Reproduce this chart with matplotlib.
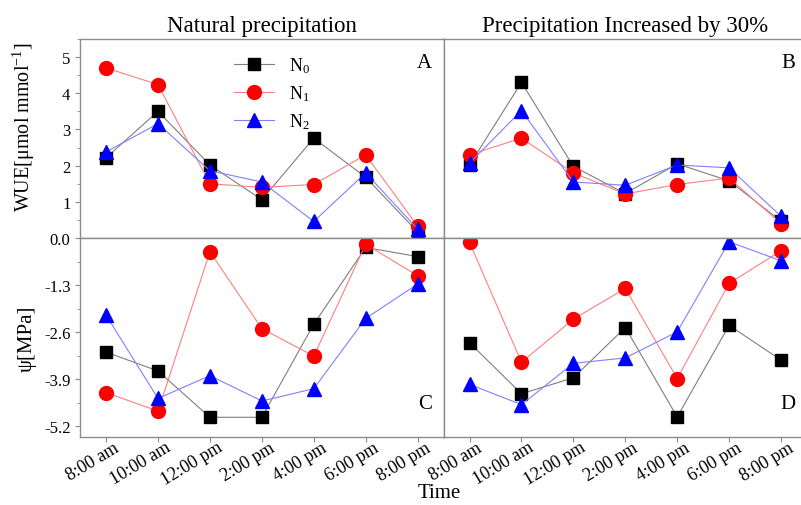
import matplotlib
matplotlib.use("Agg")
import matplotlib.pyplot as plt
from matplotlib.ticker import MultipleLocator, FixedLocator
from matplotlib.transforms import ScaledTranslation
import numpy as np

plt.rcParams["font.family"] = ["Liberation Serif", "DejaVu Serif"]
plt.rcParams["mathtext.fontset"] = "custom"
plt.rcParams["mathtext.rm"] = "Liberation Serif"
plt.rcParams["mathtext.it"] = "Liberation Serif:italic"

times = ["8:00 am", "10:00 am", "12:00 pm", "2:00 pm", "4:00 pm", "6:00 pm", "8:00 pm"]
series = ["N$_0$", "N$_1$", "N$_2$"]

# WUE, natural precipitation
wue_nat_n0 = [2.22, 3.50, 2.02, 1.06, 2.76, 1.68, 0.17]
wue_nat_n1 = [4.70, 4.24, 1.50, 1.40, 1.48, 2.30, 0.33]
wue_nat_n2 = [2.38, 3.16, 1.86, 1.55, 0.46, 1.80, 0.25]
# WUE, precipitation +30%
wue_inc_n0 = [2.02, 4.30, 1.98, 1.23, 2.05, 1.58, 0.47]
wue_inc_n1 = [2.30, 2.76, 1.80, 1.22, 1.48, 1.66, 0.40]
wue_inc_n2 = [2.07, 3.52, 1.55, 1.46, 2.02, 1.94, 0.60]
# water potential, natural precipitation
psi_nat_n0 = [-3.15, -3.67, -4.95, -4.95, -2.38, -0.26, -0.51]
psi_nat_n1 = [-4.27, -4.78, -0.38, -2.50, -3.26, -0.17, -1.04]
psi_nat_n2 = [-2.13, -4.43, -3.80, -4.50, -4.16, -2.22, -1.27]
# water potential, precipitation +30%
psi_inc_n0 = [-2.89, -4.30, -3.86, -2.47, -4.94, -2.41, -3.37]
psi_inc_n1 = [-0.12, -3.43, -2.24, -1.39, -3.88, -1.25, -0.35]
psi_inc_n2 = [-4.04, -4.60, -3.46, -3.31, -2.59, -0.10, -0.63]

styles = [
    dict(marker="s", color="#7f7f7f", mfc="black", mec="black", ms=9),
    dict(marker="o", color="#ff8080", mfc="red", mec="red", ms=10),
    dict(marker="^", color="#8080ff", mfc="blue", mec="blue", ms=10),
]

fig = plt.figure(figsize=(8.01, 5.06), dpi=100)
gs = fig.add_gridspec(2, 2, left=0.1, right=1.0075, top=0.921, bottom=0.134,
                      hspace=0, wspace=0)
axes = [[fig.add_subplot(gs[r, c]) for c in range(2)] for r in range(2)]

panels = [
    [(wue_nat_n0, wue_nat_n1, wue_nat_n2), (wue_inc_n0, wue_inc_n1, wue_inc_n2)],
    [(psi_nat_n0, psi_nat_n1, psi_nat_n2), (psi_inc_n0, psi_inc_n1, psi_inc_n2)],
]
letters = [["A", "B"], ["C", "D"]]

x = np.arange(len(times))
spine_col = "#8c8c8c"
shift = ScaledTranslation(5 / 72, 6 / 72, fig.dpi_scale_trans)
for r in range(2):
    for c in range(2):
        ax = axes[r][c]
        for vals, lab, st in zip(panels[r][c], series, styles):
            ax.plot(x, vals, lw=0.8, label=lab, **st)
        ax.set_xlim(-0.5, 6.5)
        for s in ax.spines.values():
            s.set_color(spine_col)
            s.set_linewidth(1.0)
        ax.tick_params(colors=spine_col, labelcolor="black", direction="out",
                       labelsize=12)
        ax.tick_params(which="minor", colors=spine_col, direction="out")
        if r == 0:
            ax.set_ylim(0, 5.5)
            ax.yaxis.set_major_locator(FixedLocator([0, 1, 2, 3, 4, 5]))
            ax.yaxis.set_minor_locator(MultipleLocator(0.5))
            ax.set_yticklabels(["0.0", "1", "2", "3", "4", "5"])
            ax.set_xticks([])
            ax.text(0.948, 0.884, letters[r][c], transform=ax.transAxes,
                    ha="center", va="center", fontsize=15)
        else:
            ax.set_ylim(-5.5, 0)
            ax.yaxis.set_major_locator(FixedLocator([-5.2, -3.9, -2.6, -1.3]))
            ax.yaxis.set_minor_locator(FixedLocator([-4.55, -3.25, -1.95, -0.65, 0]))
            ax.set_yticklabels(["-5.2", "-3.9", "-2.6", "-1.3"])
            ax.set_xticks(x)
            ax.set_xticklabels(times, rotation=31, ha="right",
                               rotation_mode="anchor", fontsize=13)
            for lbl in ax.get_xticklabels():
                lbl.set_transform(lbl.get_transform() + shift)
            ax.text(0.948, 0.17, letters[r][c], transform=ax.transAxes,
                    ha="center", va="center", fontsize=15)
        if c == 1:
            ax.tick_params(axis="y", which="both", left=False, labelleft=False)

axes[0][0].set_title("Natural precipitation", fontsize=16.5, pad=6)
axes[0][1].set_title("Precipitation Increased by 30%", fontsize=16.5, pad=6)
axes[0][0].set_ylabel("WUE[μmol mmol$^{-1}$]", fontsize=14.5)
axes[0][0].yaxis.set_label_coords(-0.118, 0.56)
axes[1][0].set_ylabel("ψ[MPa]", fontsize=15)
axes[1][0].yaxis.set_label_coords(-0.118, 0.5)
axes[0][0].legend(loc="upper left", bbox_to_anchor=(0.38, 1.0), frameon=False,
                  fontsize=13, handlelength=2.2, labelspacing=0.45)
fig.text(0.549, 0.024, "Time", ha="center", va="center", fontsize=15)

fig.savefig("out.png", dpi=100)
